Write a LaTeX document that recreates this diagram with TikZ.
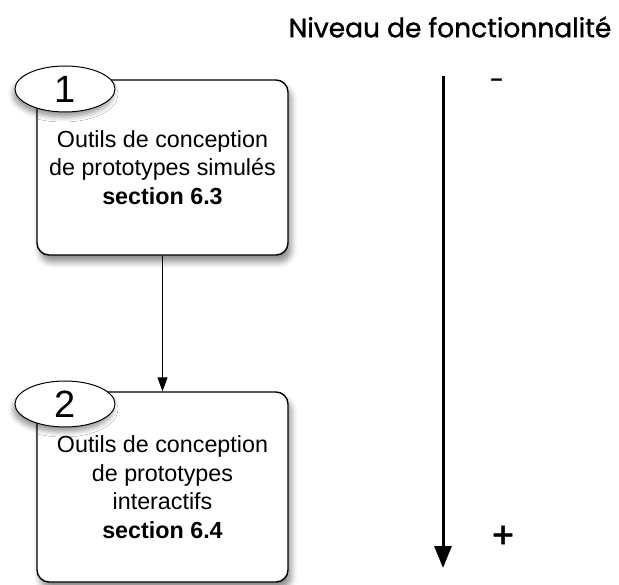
\documentclass[tikz,border=0pt]{standalone}
\usepackage{fontspec}
\setmainfont{Liberation Sans}
\newfontfamily\titlefont[FakeBold=1.2]{Poppins}
\usetikzlibrary{shapes.geometric,arrows.meta,shadows.blur}
\tikzset{
  boxstyle/.style={draw=black, line width=1.4pt, fill=white, rounded corners=12pt,
    minimum width=251pt, inner sep=0pt, align=center,
    font=\fontsize{23.3}{28.5}\selectfont,
    blur shadow={shadow xshift=3pt, shadow yshift=-7pt, shadow blur radius=6pt, shadow opacity=45}},
  numstyle/.style={ellipse, draw=black, line width=1pt, fill=white, minimum width=100pt,
    minimum height=46pt, inner sep=0pt, font=\fontsize{38}{38}\selectfont,
    blur shadow={shadow xshift=-2pt, shadow yshift=-5pt, shadow blur radius=5pt, shadow opacity=40}},
  titlestyle/.style={font=\titlefont\fontsize{26.5}{30}\selectfont, inner sep=0pt},
  signstyle/.style={font=\titlefont\fontsize{36}{36}\selectfont, inner sep=0pt},
  linkarrow/.style={draw=black, line width=1pt, -{Triangle[length=14pt,width=10pt]}},
  bigarrow/.style={draw=black, line width=3pt, -{Triangle[length=22pt,width=17pt]}}
}
\begin{document}
\begin{tikzpicture}[x=1pt,y=-1pt]
\useasboundingbox (0,0) rectangle (619,585);
\node[boxstyle, minimum height=175pt] (b1) at (162.5,167.5)
  {Outils de conception\\de prototypes simulés\\\textbf{section 6.3}};
\node[boxstyle, minimum height=190pt] (b2) at (162.5,487)
  {Outils de conception\\de prototypes\\interactifs\\\textbf{section 6.4}};
\node[numstyle] (n1) at (65,89) {1};
\node[numstyle] (n2) at (65,404) {2};
\draw[linkarrow] (b1.south) -- (b2.north);
\node[titlestyle] (title) at (450,27) {Niveau de fonctionnalité};
\coordinate (atop) at (443,76);
\coordinate (abot) at (443,568);
\draw[bigarrow] (atop) -- (abot);
\node[signstyle, font=\titlefont\fontsize{26}{26}\selectfont] (minus) at (497,84) {-};
\node[signstyle] (plus) at (503,537) {+};
\end{tikzpicture}
\end{document}
